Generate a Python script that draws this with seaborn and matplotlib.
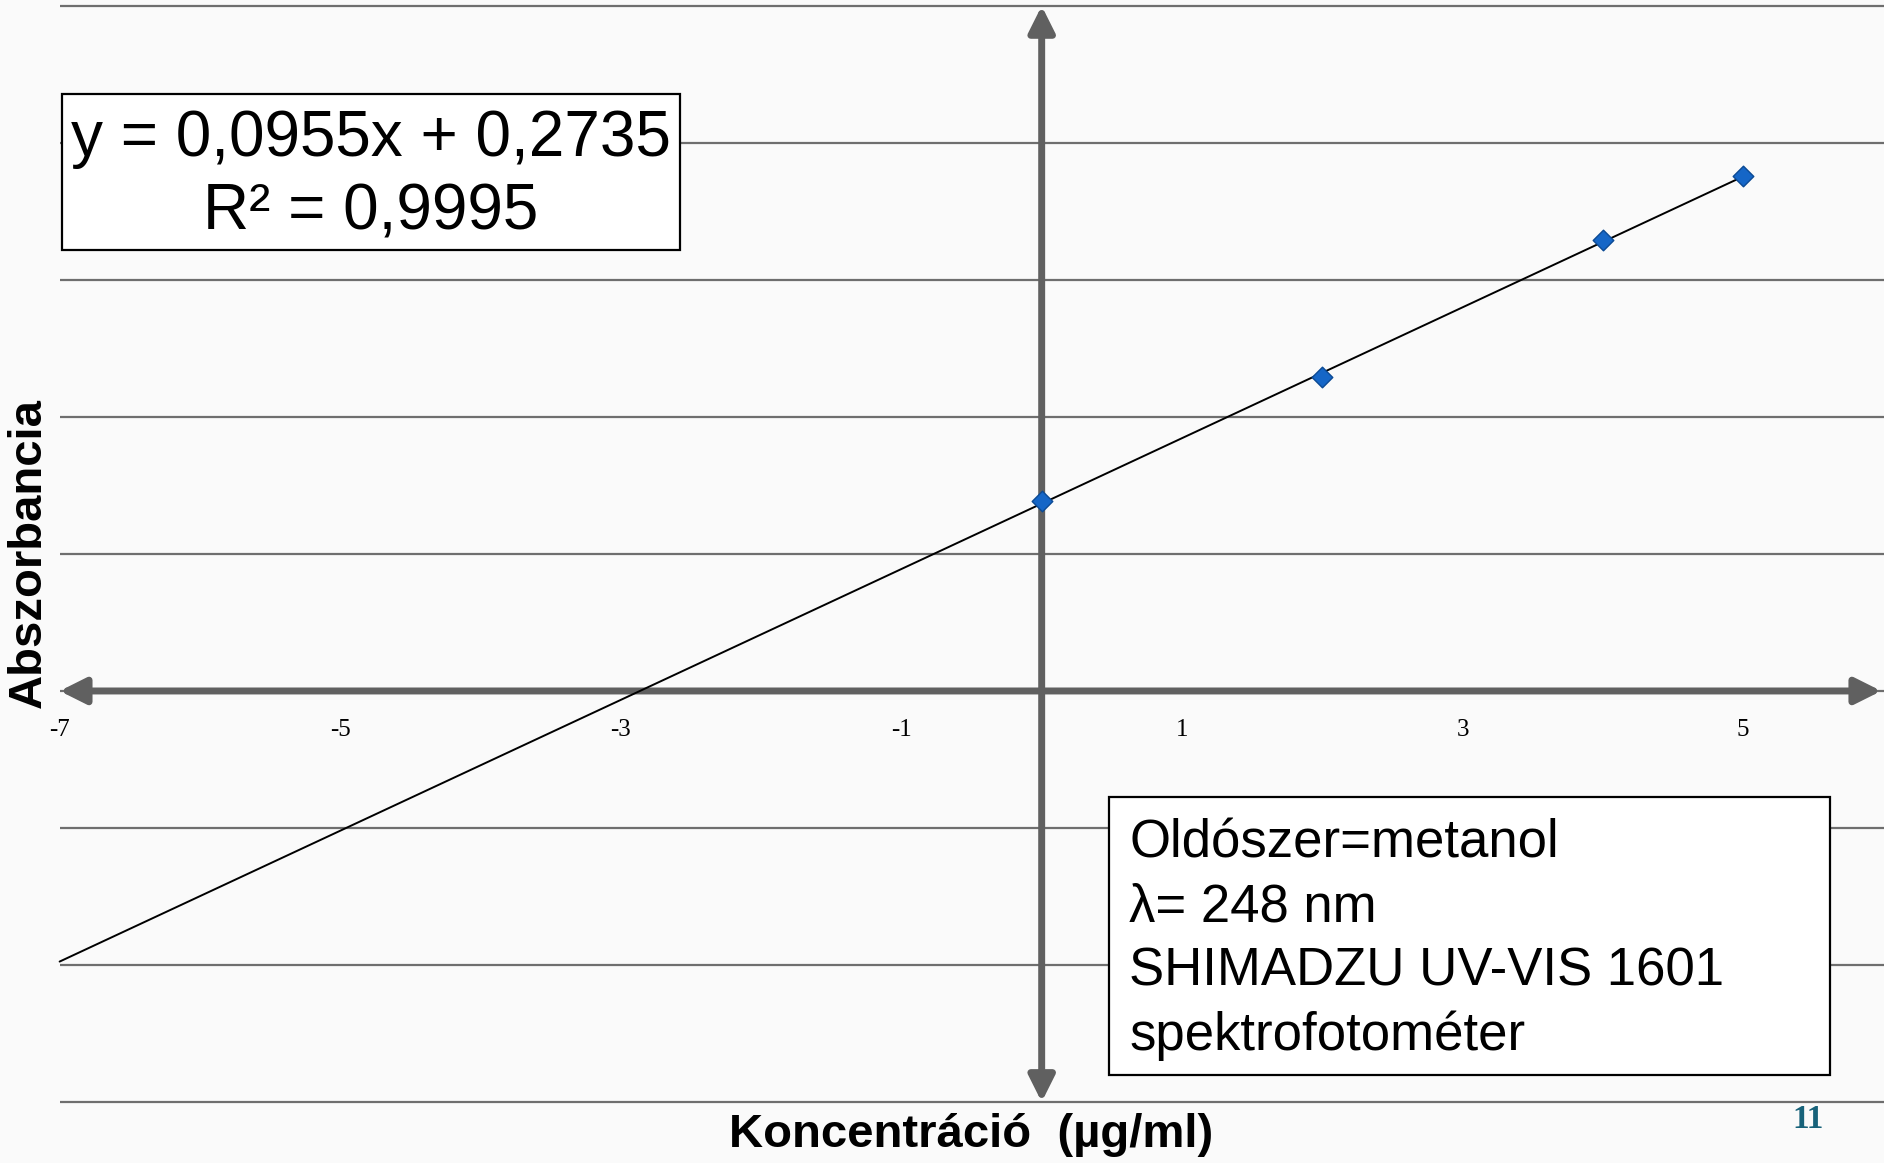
import numpy as np
import pandas as pd
import seaborn as sns
import matplotlib.pyplot as plt
from matplotlib.patches import FancyArrowPatch, Rectangle

# calibration data
conc = [0, 2, 4, 5]
absorb = [0.277, 0.458, 0.658, 0.751]
slope = 0.0955
intercept = 0.2735
trend_x = [-7, 5]
grid_y = [-0.6, -0.4, -0.2, 0.0, 0.2, 0.4, 0.6, 0.8, 1.0]
tick_pos = [-7, -5, -3, -1, 1, 3, 5]
tick_labels = ["-7", "-5", "-3", "-1", "1", "3", "5"]
info_lines = ["Oldószer=metanol", "λ= 248 nm", "SHIMADZU UV-VIS 1601", "spektrofotométer"]

sns.set_theme(style="white")
plt.rcParams["font.family"] = ["Liberation Sans", "DejaVu Sans"]
plt.rcParams["text.color"] = "black"

W, H = 1884, 1163
fig = plt.figure(figsize=(W / 100, H / 100), dpi=100)
fig.patch.set_facecolor("#fafafa")
ax = fig.add_axes([0, 0, 1, 1])
ax.set_facecolor("#fafafa")
ax.set_xlim(-7.425, 6.004)
ax.set_ylim(-0.689, 1.0086)

# horizontal grid lines starting at x = -7
ax.hlines(grid_y, -7, 6.004, color="#6e6e6e", lw=1.6, zorder=1)

# axis arrows
axis_col = "#606060"
style = "<|-|>,head_length=1.3,head_width=0.65"
ax.add_patch(FancyArrowPatch((-7, 0), (5.985, 0), arrowstyle=style, mutation_scale=12,
                             lw=5, color=axis_col, shrinkA=0, shrinkB=0, zorder=2))
ax.add_patch(FancyArrowPatch((0, -0.6), (0, 1.0), arrowstyle=style, mutation_scale=12,
                             lw=5, color=axis_col, shrinkA=0, shrinkB=0, zorder=2))

# trend line and points
df_trend = pd.DataFrame({"x": trend_x})
df_trend["y"] = slope * df_trend["x"] + intercept
sns.lineplot(data=df_trend, x="x", y="y", color="black", lw=1.4, ax=ax, zorder=3)
sns.scatterplot(x=conc, y=absorb, marker="D", s=110, color="#1566c7",
                edgecolor="#0b4a94", linewidth=1, ax=ax, zorder=5)

# ticks on the zero line
ax.spines["bottom"].set_position(("data", 0))
for s in ax.spines.values():
    s.set_visible(False)
ax.set_xticks(tick_pos, labels=tick_labels)
ax.set_yticks([])
ax.tick_params(axis="x", length=0, pad=20, labelsize=18, labelcolor="black",
               labelfontfamily="Liberation Serif")

# axis labels
ax.set_xlabel("Koncentráció  (µg/ml)", fontsize=34, fontweight="bold", color="black",
              va="center", ha="center")
ax.xaxis.set_label_coords(971 / W, 1 - 1135 / H)
ax.set_ylabel("Abszorbancia", fontsize=34, fontweight="bold", color="black",
              va="center", ha="center")
ax.yaxis.set_label_coords(29 / W, 1 - 553 / H)

# equation box
fig.patches.append(Rectangle((62 / W, 1 - 250 / H), (680 - 62) / W, (250 - 94) / H,
                             transform=fig.transFigure, fill=True, facecolor="white",
                             edgecolor="black", lw=1.6, zorder=6))
fig.text(371 / W, 1 - 139 / H, "y = 0,0955x + 0,2735", fontsize=46, ha="center", va="center", zorder=7)
fig.text(371 / W, 1 - 212 / H, "R² = 0,9995", fontsize=46, ha="center", va="center", zorder=7)

# instrument box
fig.patches.append(Rectangle((1109 / W, 1 - 1075 / H), (1830 - 1109) / W, (1075 - 797) / H,
                             transform=fig.transFigure, fill=True, facecolor="white",
                             edgecolor="black", lw=1.6, zorder=6))
for i, line in enumerate(info_lines):
    fig.text(1129 / W, 1 - (844 + 64 * i) / H, line, fontsize=38, ha="left", va="center", zorder=7)

# slide page number
fig.text(1808 / W, 1 - 1120 / H, "11", color="#17627a", family="Liberation Serif",
         fontweight="bold", fontsize=24, ha="center", va="center")

fig.savefig("out.png", dpi=100, facecolor=fig.get_facecolor())
